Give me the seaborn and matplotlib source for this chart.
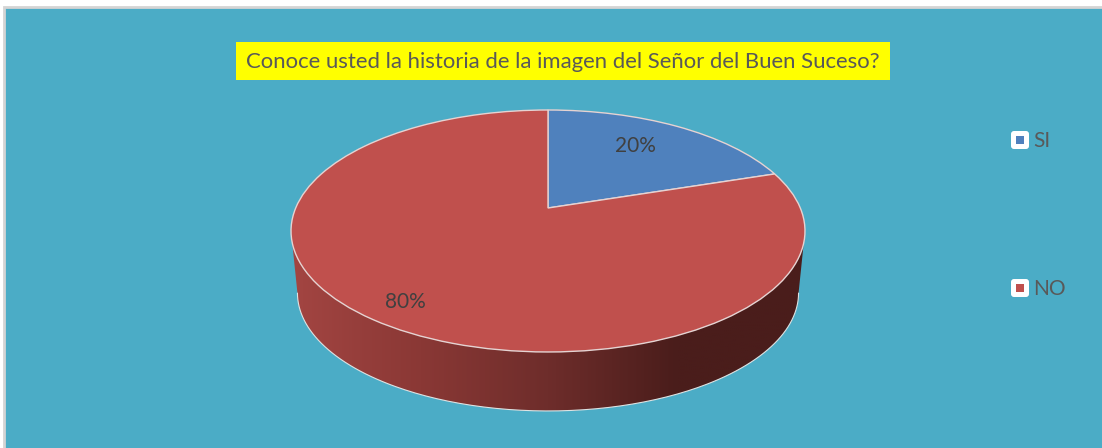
import numpy as np
import matplotlib
matplotlib.use('Agg')
import matplotlib.pyplot as plt
from matplotlib.patches import Rectangle, FancyBboxPatch, Polygon
from matplotlib.transforms import Transform
import seaborn as sns

# Datos
categorias = ['SI', 'NO']
valores = [20, 80]
colores = ['#4F81BD', '#C0504D']
titulo = 'Conoce usted la historia de la imagen del Señor del Buen Suceso?'

sns.set_style('white')
plt.rcParams['font.family'] = ['Lato', 'DejaVu Sans']

FONDO = '#4BACC6'
GRIS_TEXTO = '#595959'
BORDE = '#E6D3D2'

# perspectiva de la tapa: circulo unidad -> pixeles
C = 0.19
A = -77.1
Y0 = 208.0
CX = 548.0
K = 252.3


class Perspectiva(Transform):
    input_dims = 2
    output_dims = 2

    def transform_non_affine(self, values):
        values = np.asarray(values)
        u, v = values[:, 0], values[:, 1]
        d = 1 + C * v
        return np.column_stack([CX + K * u / d, (A * v + Y0) / d])


fig = plt.figure(figsize=(11.02, 4.48), dpi=100, facecolor='white')
ax = fig.add_axes([0, 0, 1, 1])

# el pie va en coordenadas unidad, luego se proyecta
wedges, _, textos = ax.pie(valores, colors=colores, startangle=90, counterclock=False,
                           radius=1, autopct=lambda p: f'{p:.0f}%',
                           wedgeprops=dict(edgecolor=BORDE, linewidth=1.0, zorder=5),
                           textprops=dict(color='#404040', fontsize=15, zorder=6))
ax.set_aspect('auto')
ax.set_xlim(0, 1102)
ax.set_ylim(448, 0)
ax.set_axis_off()

proy = Perspectiva()
for w in wedges:
    w.set_transform(proy + ax.transData)
textos[0].set_position((635, 146))
textos[1].set_position((405, 302))

# fondo y borde
ax.add_patch(Rectangle((3.5, 7), 1102, 445, facecolor=FONDO, edgecolor='#D4D4D4', linewidth=2, zorder=0))

# lateral del cilindro, entre los puntos mas anchos de la elipse
t = np.radians(np.linspace(191, 349, 200))
tapa = proy.transform(np.column_stack([np.cos(t), np.sin(t)]))
base = tapa.copy()
base[:, 0] = CX + (tapa[:, 0] - CX) * 0.975
base[:, 1] = 231 + (tapa[:, 1] - 231) * 0.975 + 62
lateral = Polygon(np.vstack([tapa, base[::-1]]), closed=True, facecolor='none', edgecolor='none',
                  transform=ax.transData)
ax.add_patch(lateral)
degradado = sns.blend_palette(['#A34542', '#8A3835', '#6E2D2B', '#4A1D1B', '#4A1D1B'], 256)
img = ax.imshow(np.array(degradado)[np.newaxis, :, :], extent=(292, 805, 420, 225), aspect='auto', zorder=2)
img.set_clip_path(lateral)
ax.plot(base[:, 0], base[:, 1], color='#DDE3E3', lw=0.8, zorder=3)
ax.set_xlim(0, 1102)
ax.set_ylim(448, 0)

# titulo
ax.add_patch(Rectangle((236, 42), 654, 38, facecolor='#FFFF00', edgecolor='none', zorder=4))
ax.text(562.5, 62, titulo, ha='center', va='center', fontsize=15.95, color=GRIS_TEXTO, zorder=5)

# leyenda
for cat, col, y in zip(categorias, colores, [140, 288]):
    ax.add_patch(FancyBboxPatch((1013, y - 7), 14, 14, boxstyle='round,pad=2,rounding_size=3',
                                facecolor='white', edgecolor='none', zorder=4))
    ax.add_patch(Rectangle((1016, y - 4), 8, 8, facecolor=col, edgecolor='none', zorder=5))
    ax.text(1033, y + 1, cat, ha='left', va='center', fontsize=15, color=GRIS_TEXTO, zorder=5)

fig.savefig('out.png', dpi=100)
